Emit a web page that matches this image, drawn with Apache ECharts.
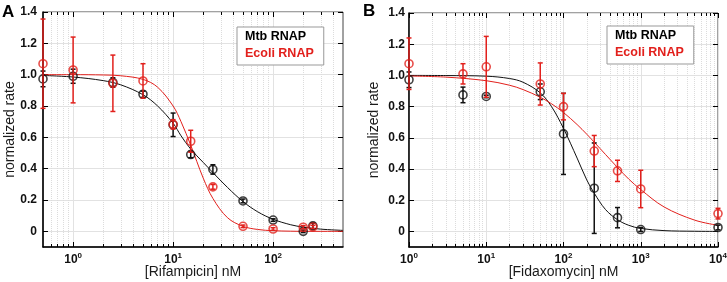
<!DOCTYPE html>
<html>
<head>
<meta charset="utf-8">
<script src="https://cdn.jsdelivr.net/npm/echarts@6/dist/echarts.min.js"></script>
<style>
  html, body { margin: 0; padding: 0; background: #fff; }
  #chart { width: 727px; height: 282px; }
</style>
</head>
<body>
<div id="chart"></div>
<script>
// ---- data ----
// panel A : rifampicin
var concA = [0.5, 1, 2.5, 5, 10, 15, 25, 50, 100, 200, 250]
var mtbA = [0.973, 0.99, 0.95, 0.875, 0.68, 0.49, 0.395, 0.194, 0.072, 0.0, 0.035]
var mtbErrA = [0.05, 0.045, 0.03, 0.02, 0.075, 0.02, 0.03, 0.012, 0.008, 0.008, 0.018]
var ecoliA = [1.07, 1.03, 0.945, 0.96, 0.683, 0.575, 0.284, 0.032, 0.015, 0.026, 0.028]
var ecoliErrA = [0.285, 0.21, 0.18, 0.11, 0.03, 0.07, 0.015, 0.008, 0.008, 0.01, 0.01]
// fitted curves
var fitXA = [0.5, 1, 2, 3, 5, 7, 10, 12, 15, 20, 25, 35, 50, 70, 100, 150, 200, 300, 500]
var mtbFitA = [0.995, 0.985, 0.962, 0.935, 0.872, 0.80, 0.69, 0.61, 0.525, 0.44, 0.375, 0.28, 0.19, 0.125, 0.077, 0.042, 0.027, 0.014, 0.006]
var ecoliFitA = [1.0, 1.0, 0.998, 0.993, 0.97, 0.92, 0.80, 0.70, 0.55, 0.34, 0.21, 0.087, 0.032, 0.012, 0.004, 0.001, 0.0, 0.0, 0.0]

// panel B : fidaxomycin
var concB = [1, 5, 10, 50, 100, 250, 500, 1000, 10000]
var mtbB = [0.972, 0.875, 0.865, 0.895, 0.625, 0.277, 0.088, 0.012, 0.025]
var mtbErrB = [0.05, 0.05, 0.008, 0.05, 0.26, 0.29, 0.065, 0.012, 0.015]
var ecoliB = [1.075, 1.01, 1.055, 0.945, 0.80, 0.515, 0.388, 0.272, 0.114]
var ecoliErrB = [0.165, 0.065, 0.195, 0.135, 0.085, 0.10, 0.068, 0.12, 0.034]
var fitXB = [1, 3, 10, 20, 30, 50, 70, 100, 150, 200, 250, 350, 500, 700, 1000, 2000, 5000, 10000]
var mtbFitB = [1.0, 0.999, 0.995, 0.98, 0.956, 0.888, 0.80, 0.66, 0.47, 0.33, 0.245, 0.14, 0.075, 0.039, 0.019, 0.005, 0.001, 0.0]
var ecoliFitB = [0.996, 0.989, 0.966, 0.937, 0.909, 0.86, 0.818, 0.762, 0.685, 0.623, 0.572, 0.493, 0.41, 0.335, 0.268, 0.157, 0.072, 0.039]

// ticks
var yTicks = [0, 0.2, 0.4, 0.6, 0.8, 1.0, 1.2, 1.4]
var majorTicksA = [1, 10, 100]
var minorTicksA = [0.6, 0.7, 0.8, 0.9, 2, 3, 4, 5, 6, 7, 8, 9, 20, 30, 40, 50, 60, 70, 80, 90, 200, 300, 400]
var majorTicksB = [1, 10, 100, 1000, 10000]
var minorTicksB = [2, 3, 4, 5, 6, 7, 8, 9, 20, 30, 40, 50, 60, 70, 80, 90,
  200, 300, 400, 500, 600, 700, 800, 900, 2000, 3000, 4000, 5000, 6000, 7000, 8000, 9000]

var RED = '#e2201c'
var BLACK = '#111'
var FONT = 'Liberation Sans, Arial, sans-serif'

var grids = [], xAxes = [], yAxes = [], series = [], legends = [], titles = []

function pair(xs, ys) {
  return xs.map(function (x, i) { return [x, ys[i]] })
}
function errData(xs, ys, es) {
  return xs.map(function (x, i) { return [x, ys[i] - es[i], ys[i] + es[i]] })
}

//误差棒
function renderErr(params, api) {
  var x = api.value(0)
  var lo = api.coord([x, api.value(1)])
  var hi = api.coord([x, api.value(2)])
  var w = 2.5
  var st = { stroke: api.visual('color'), lineWidth: 1.5 }
  return {
    type: 'group',
    children: [
      { type: 'line', shape: { x1: lo[0], y1: lo[1], x2: hi[0], y2: hi[1] }, style: st },
      { type: 'line', shape: { x1: lo[0] - w, y1: lo[1], x2: lo[0] + w, y2: lo[1] }, style: st },
      { type: 'line', shape: { x1: hi[0] - w, y1: hi[1], x2: hi[0] + w, y2: hi[1] }, style: st }
    ]
  }
}

function powLabel(v) {
  var e = Math.round(Math.log(v) / Math.LN10)
  return '{b|10}{s|' + e + '}'
}

function addPanel(p) {
  var g = grids.length
  grids.push({
    left: p.left, top: p.top, width: p.width, height: p.height,
    show: true, borderColor: '#444', borderWidth: 1, backgroundColor: '#fff',
    outerBoundsMode: 'none', containLabel: false
  })
  var xi = xAxes.length, yi = yAxes.length
  function xBase(extra) {
    var o = { type: 'log', logBase: 10, gridIndex: g, min: p.xMin, max: p.xMax, silent: true }
    for (var k in extra) o[k] = extra[k]
    return o
  }
  // bottom, labels + major grid
  xAxes.push(xBase({
    position: 'bottom',
    name: p.xName, nameLocation: 'middle', nameGap: 18, nameMoveOverlap: false,
    nameTextStyle: { fontSize: 14, color: '#1a1a1a', fontFamily: FONT },
    axisLine: { show: true, onZero: false, lineStyle: { color: '#000', width: 1.5 } },
    axisTick: { show: true, inside: true, length: 5, customValues: p.major, lineStyle: { color: '#000' } },
    axisLabel: {
      customValues: p.major, formatter: powLabel, margin: 5,
      rich: {
        b: { fontSize: 12, fontWeight: 'bold', color: '#111', fontFamily: FONT },
        s: { fontSize: 8, fontWeight: 'bold', color: '#111', fontFamily: FONT, padding: [0, 0, 7, 0] }
      }
    },
    splitLine: { show: true, lineStyle: { color: '#e2e2e2', width: 1 } }
  }))
  // bottom, minor ticks + dotted grid
  xAxes.push(xBase({
    position: 'bottom',
    axisLine: { show: false, onZero: false },
    axisTick: { show: true, inside: true, length: 3, customValues: p.minor, lineStyle: { color: '#000' } },
    axisLabel: { show: false },
    splitLine: { show: true, lineStyle: { color: '#dcdcdc', width: 1, type: 'dotted' } }
  }))
  // top ticks
  xAxes.push(xBase({
    position: 'top',
    axisLine: { show: false, onZero: false },
    axisTick: { show: true, inside: true, length: 5, customValues: p.major, lineStyle: { color: '#000' } },
    axisLabel: { show: false },
    splitLine: { show: false }
  }))
  xAxes.push(xBase({
    position: 'top',
    axisLine: { show: false, onZero: false },
    axisTick: { show: true, inside: true, length: 3, customValues: p.minor, lineStyle: { color: '#000' } },
    axisLabel: { show: false },
    splitLine: { show: false }
  }))

  yAxes.push({
    type: 'value', gridIndex: g, min: -0.1, max: 1.4, position: 'left', silent: true,
    name: 'normalized rate', nameLocation: 'middle', nameGap: p.yNameGap, nameMoveOverlap: false,
    nameTextStyle: { fontSize: 14, color: '#1a1a1a', fontFamily: FONT },
    axisLine: { show: true, onZero: false, lineStyle: { color: '#000', width: 1.5 } },
    axisTick: { show: true, inside: true, length: 5, customValues: yTicks, lineStyle: { color: '#000' } },
    axisLabel: {
      customValues: yTicks, margin: p.yLabelMargin,
      fontSize: 12, fontWeight: 'bold', color: '#111', fontFamily: FONT,
      formatter: function (v) { return v === 0 ? '0' : v.toFixed(1) }
    },
    splitLine: { show: true, lineStyle: { color: '#e2e2e2', width: 1 } }
  })
  yAxes.push({
    type: 'value', gridIndex: g, min: -0.1, max: 1.4, position: 'right', silent: true,
    axisLine: { show: false, onZero: false },
    axisTick: { show: true, inside: true, length: 5, customValues: yTicks, lineStyle: { color: '#000' } },
    axisLabel: { show: false },
    splitLine: { show: false }
  })

  var common = { xAxisIndex: xi, yAxisIndex: yi, silent: true }
  function s(o) {
    for (var k in common) o[k] = common[k]
    series.push(o)
  }
  s({ name: 'Mtb RNAP', type: 'line', data: pair(p.fitX, p.mtbFit), smooth: 0.35, symbol: 'none',
      lineStyle: { color: BLACK, width: 1 }, itemStyle: { color: BLACK }, z: 2 })
  s({ name: 'Ecoli RNAP', type: 'line', data: pair(p.fitX, p.ecoliFit), smooth: 0.35, symbol: 'none',
      lineStyle: { color: RED, width: 1 }, itemStyle: { color: RED }, z: 2 })
  s({ name: 'Mtb RNAP', type: 'custom', renderItem: renderErr, data: errData(p.conc, p.mtb, p.mtbErr),
      encode: { x: 0, y: [1, 2] }, itemStyle: { color: BLACK }, z: 3 })
  s({ name: 'Mtb RNAP', type: 'scatter', data: pair(p.conc, p.mtb), symbol: 'circle', symbolSize: 8,
      itemStyle: { color: 'rgba(0,0,0,0)', borderColor: BLACK, borderWidth: 1.6 }, z: 4 })
  s({ name: 'Ecoli RNAP', type: 'custom', renderItem: renderErr, data: errData(p.conc, p.ecoli, p.ecoliErr),
      encode: { x: 0, y: [1, 2] }, itemStyle: { color: RED }, z: 5 })
  s({ name: 'Ecoli RNAP', type: 'scatter', data: pair(p.conc, p.ecoli), symbol: 'circle', symbolSize: 8,
      itemStyle: { color: 'rgba(0,0,0,0)', borderColor: RED, borderWidth: 1.6 }, z: 6 })

  legends.push({
    left: p.legendLeft, top: p.legendTop, orient: 'vertical',
    icon: 'none', itemWidth: 0, itemHeight: 12, itemGap: 4,
    padding: [3, 10, 5, 3],
    backgroundColor: '#fff', borderColor: '#999', borderWidth: 1,
    selectedMode: false,
    textStyle: { fontSize: 12.5, fontWeight: 'bold', fontFamily: FONT },
    data: [
      { name: 'Mtb RNAP', textStyle: { color: '#000' } },
      { name: 'Ecoli RNAP', textStyle: { color: RED } }
    ]
  })
  titles.push({
    text: p.label, left: p.labelLeft, top: p.labelTop, padding: 0,
    textStyle: { fontSize: 17, fontWeight: 'bold', color: '#000', fontFamily: FONT }
  })
}

addPanel({
  label: 'A', labelLeft: 2, labelTop: 4,
  left: 43, top: 12, width: 300, height: 235,
  xMin: 0.5, xMax: 500, major: majorTicksA, minor: minorTicksA,
  xName: '[Rifampicin] nM', yNameGap: 26, yLabelMargin: 6,
  conc: concA, mtb: mtbA, mtbErr: mtbErrA, ecoli: ecoliA, ecoliErr: ecoliErrA,
  fitX: fitXA, mtbFit: mtbFitA, ecoliFit: ecoliFitA,
  legendLeft: 237, legendTop: 27
})
addPanel({
  label: 'B', labelLeft: 363, labelTop: 3,
  left: 409, top: 13, width: 309, height: 234,
  xMin: 1, xMax: 10000, major: majorTicksB, minor: minorTicksB,
  xName: '[Fidaxomycin] nM', yNameGap: 28, yLabelMargin: 4,
  conc: concB, mtb: mtbB, mtbErr: mtbErrB, ecoli: ecoliB, ecoliErr: ecoliErrB,
  fitX: fitXB, mtbFit: mtbFitB, ecoliFit: ecoliFitB,
  legendLeft: 607, legendTop: 26
})

var chart = echarts.init(document.getElementById('chart'), null, { renderer: 'canvas' })
chart.setOption({
  animation: false,
  backgroundColor: '#fff',
  title: titles,
  legend: legends,
  grid: grids,
  xAxis: xAxes,
  yAxis: yAxes,
  series: series
})
</script>
</body>
</html>
